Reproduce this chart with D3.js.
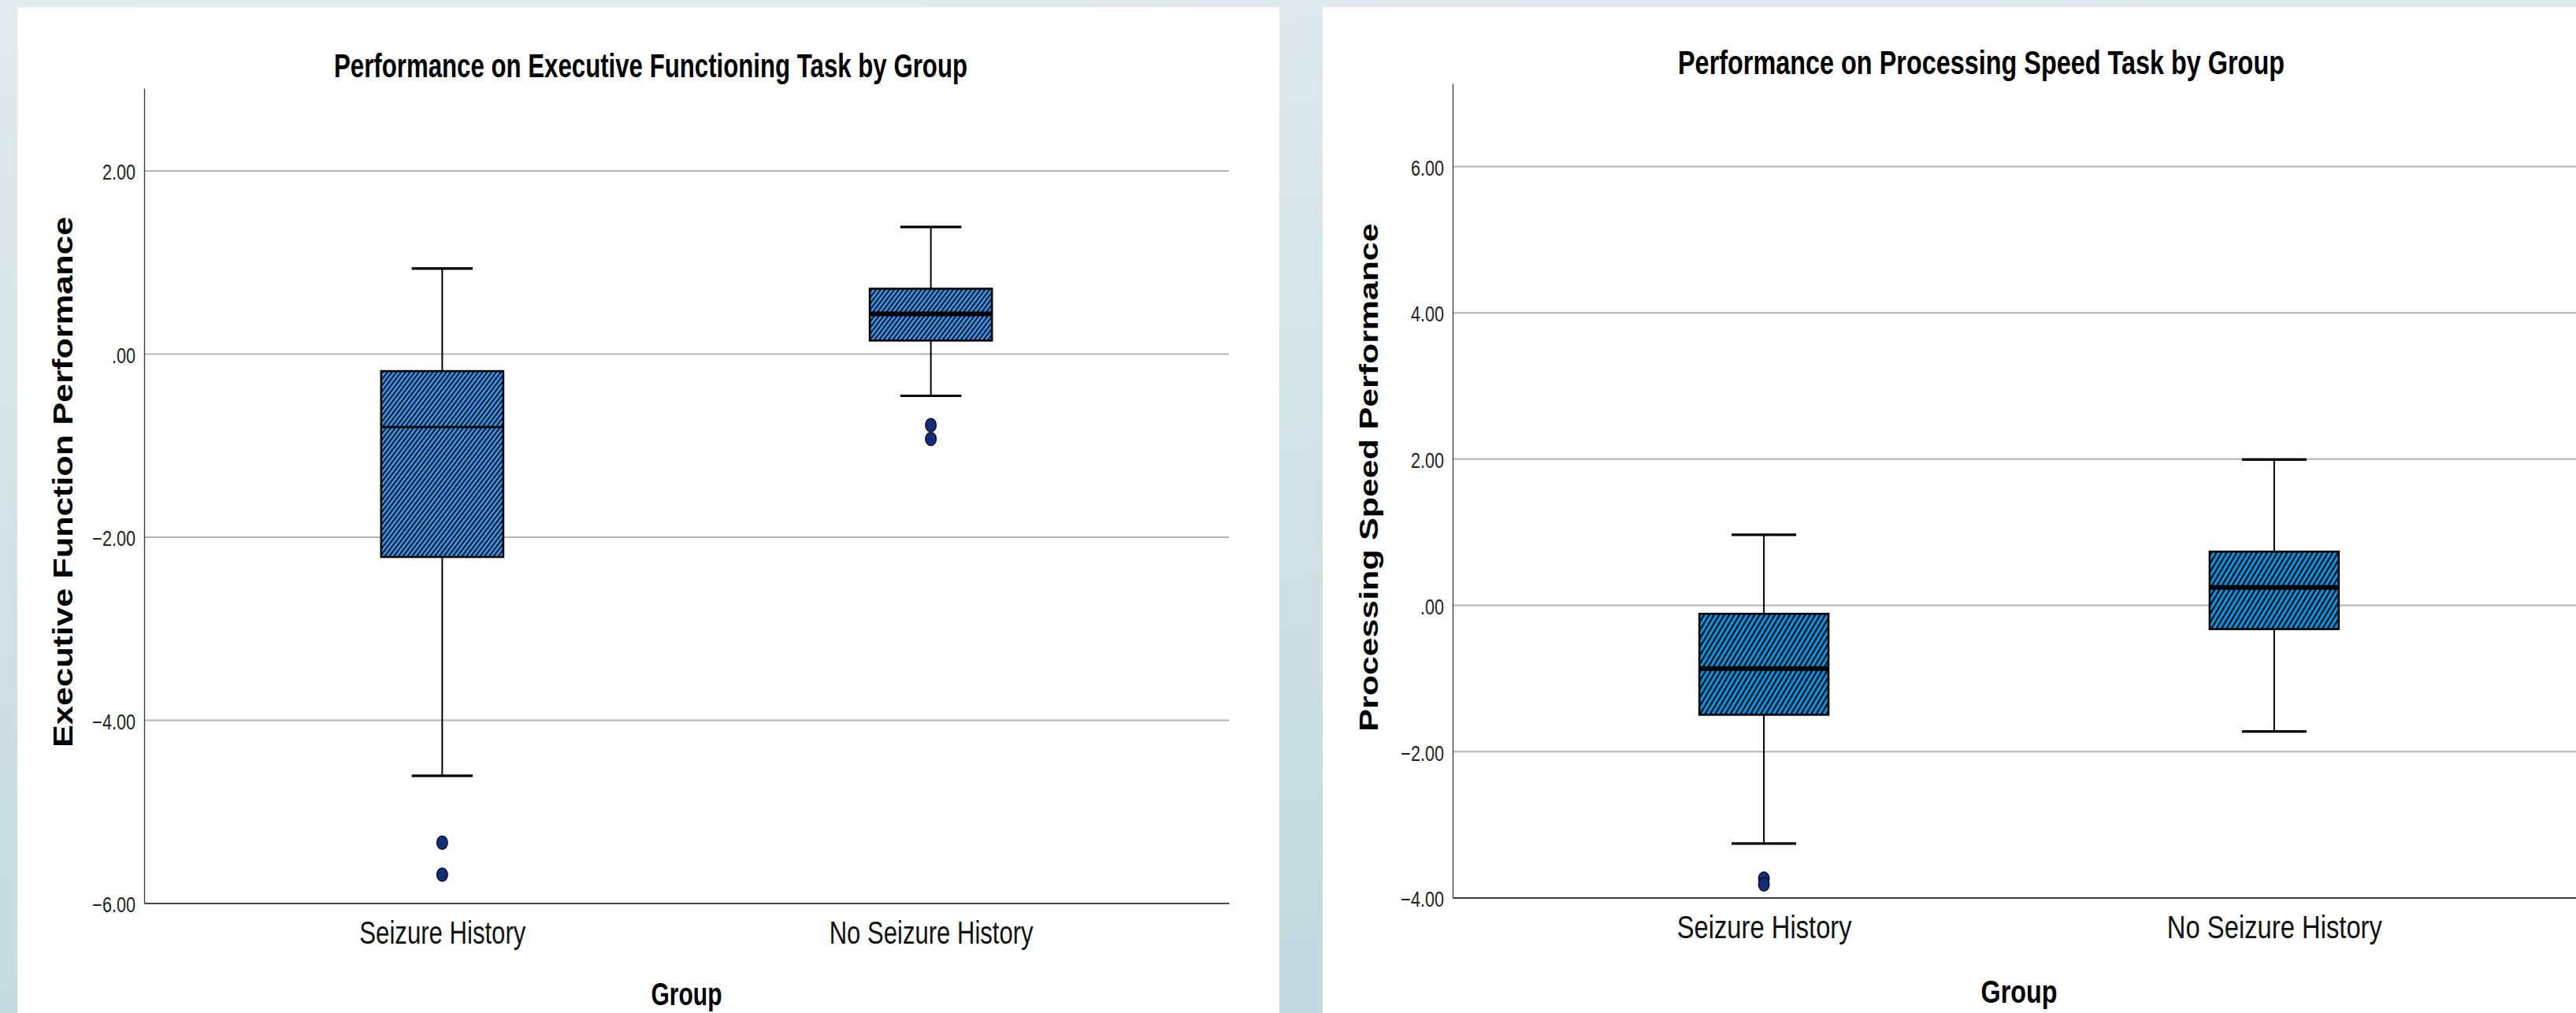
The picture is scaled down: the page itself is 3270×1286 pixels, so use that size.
<!DOCTYPE html>
<html>
<head>
<meta charset="utf-8">
<script src="https://cdn.jsdelivr.net/npm/d3@7"></script>
<style>
  html, body { margin: 0; padding: 0; }
  body { width: 3270px; height: 1286px; overflow: hidden; }
  svg { display: block; }
</style>
</head>
<body>
<svg id="root" width="3270" height="1286"></svg>
<script>
// ---------------- DATA ----------------
const groups = ["Seizure History", "No Seizure History"];

// Executive functioning (left chart)
const efWhiskerHigh = [0.93, 1.385];
const efQ3 = [-0.19, 0.71];
const efMedian = [-0.80, 0.434];
const efQ1 = [-2.22, 0.144];
const efWhiskerLow = [-4.61, -0.46];
const efOutliers = [[-5.34, -5.69], [-0.78, -0.93]];
const efTicks = [-6, -4, -2, 0, 2];

// Processing speed (right chart)
const psWhiskerHigh = [0.96, 1.99];
const psQ3 = [-0.12, 0.73];
const psMedian = [-0.87, 0.24];
const psQ1 = [-1.50, -0.33];
const psWhiskerLow = [-3.26, -1.73];
const psOutliers = [[-3.74, -3.82], []];
const psTicks = [-4, -2, 0, 2, 4, 6];

const titles = ["Performance on Executive Functioning Task by Group",
                "Performance on Processing Speed Task by Group"];
const yTitles = ["Executive Function Performance", "Processing Speed Performance"];
const xTitle = "Group";

// ---------------- DRAWING ----------------
const svg = d3.select("#root");
const defs = svg.append("defs");

const bg = defs.append("linearGradient").attr("id", "bgGrad")
  .attr("x1", 0).attr("y1", 0).attr("x2", 0.15).attr("y2", 1);
bg.append("stop").attr("offset", "0%").attr("stop-color", "#e0ebed");
bg.append("stop").attr("offset", "100%").attr("stop-color", "#c2dadf");
svg.append("rect").attr("width", 3270).attr("height", 1286).attr("fill", "url(#bgGrad)");

function hatch(id, period, angle, fill, lineW) {
  const p = defs.append("pattern").attr("id", id)
    .attr("patternUnits", "userSpaceOnUse")
    .attr("width", period).attr("height", 20)
    .attr("patternTransform", `rotate(${angle})`);
  p.append("rect").attr("width", period).attr("height", 20).attr("fill", fill);
  p.append("rect").attr("x", 0).attr("width", lineW).attr("height", 20).attr("fill", "#0a0a0a");
}
hatch("hatchL", 4.6, 37, "#3990e6", 1.7);
hatch("hatchR", 5.5, 31, "#0797e8", 2.3);

const fmt = v => d3.format(".2f")(v).replace(/^(-?)0\./, "$1.");

function condense(sel, factor) {
  sel.each(function () {
    const w = this.getComputedTextLength();
    d3.select(this).attr("textLength", w * factor).attr("lengthAdjust", "spacingAndGlyphs");
  });
}
const FONT = "Liberation Sans, Arial, Helvetica, sans-serif";

function drawChart(cfg) {
  const g = svg.append("g");
  // white panel
  g.append("rect").attr("x", cfg.panel[0]).attr("y", cfg.panel[1])
    .attr("width", cfg.panel[2]).attr("height", cfg.panel[3]).attr("fill", "#ffffff");

  const x = d3.scalePoint().domain(groups).range([cfg.left, cfg.right]).padding(0.61);
  const y = d3.scaleLinear().domain(cfg.yDomain).range([cfg.bottom, cfg.top]);
  const step = x.step();
  const boxW = step * cfg.boxFrac;
  const capW = boxW * 0.5;

  // gridlines
  const grid = g.append("g").attr("transform", `translate(${cfg.left},0)`)
    .call(d3.axisLeft(y).tickValues(cfg.ticks).tickSize(-(cfg.right - cfg.left)).tickFormat(""));
  grid.select(".domain").remove();
  grid.selectAll(".tick line").attr("stroke", "#b3b3b3").attr("stroke-width", 2);

  // y axis
  const ya = g.append("g").attr("transform", `translate(${cfg.left},0)`)
    .call(d3.axisLeft(y).tickValues(cfg.ticks).tickFormat(fmt).tickSize(0).tickSizeOuter(0).tickPadding(11));
  ya.select(".domain").attr("stroke", "#3a3a3a").attr("stroke-width", 1.3);
  ya.selectAll(".tick text").attr("font-family", FONT)
    .attr("font-size", 27 * cfg.k).attr("fill", "#222").attr("dy", "0.42em");
  condense(ya.selectAll(".tick text"), 0.8);

  // x axis
  const xa = g.append("g").attr("transform", `translate(0,${cfg.bottom})`)
    .call(d3.axisBottom(x).tickSize(0).tickSizeOuter(0).tickPadding(23 * cfg.k));
  xa.select(".domain").attr("stroke", "#3a3a3a").attr("stroke-width", 1.8);
  xa.selectAll(".tick text").attr("font-family", FONT)
    .attr("font-size", 40 * cfg.k).attr("fill", "#111")
    .attr("textLength", (d, i) => cfg.catLen[i]).attr("lengthAdjust", "spacingAndGlyphs");

  // boxes
  groups.forEach((grp, i) => {
    const cx = x(grp);
    const bx = g.append("g");
    // whiskers
    bx.append("line").attr("x1", cx).attr("x2", cx)
      .attr("y1", y(cfg.wHigh[i])).attr("y2", y(cfg.q3[i]))
      .attr("stroke", "#000").attr("stroke-width", 2);
    bx.append("line").attr("x1", cx).attr("x2", cx)
      .attr("y1", y(cfg.q1[i])).attr("y2", y(cfg.wLow[i]))
      .attr("stroke", "#000").attr("stroke-width", 2);
    [cfg.wHigh[i], cfg.wLow[i]].forEach(v => {
      bx.append("line").attr("x1", cx - capW / 2).attr("x2", cx + capW / 2)
        .attr("y1", y(v)).attr("y2", y(v))
        .attr("stroke", "#000").attr("stroke-width", 3.2);
    });
    // box
    bx.append("rect").attr("x", cx - boxW / 2).attr("width", boxW)
      .attr("y", y(cfg.q3[i])).attr("height", y(cfg.q1[i]) - y(cfg.q3[i]))
      .attr("fill", `url(#${cfg.pattern})`).attr("stroke", "#000").attr("stroke-width", 2.6);
    // median
    bx.append("line").attr("x1", cx - boxW / 2).attr("x2", cx + boxW / 2)
      .attr("y1", y(cfg.med[i])).attr("y2", y(cfg.med[i]))
      .attr("stroke", "#000").attr("stroke-width", cfg.medW[i]);
    // outliers
    bx.selectAll("ellipse.out").data(cfg.outs[i]).enter().append("ellipse")
      .attr("class", "out")
      .attr("cx", cx).attr("cy", d => y(d))
      .attr("rx", 6.8 * cfg.k).attr("ry", 8.5 * cfg.k)
      .attr("fill", "#12307a").attr("stroke", "#0a0a1a").attr("stroke-width", 1.4);
  });

  // title
  g.append("text").attr("x", cfg.titleX).attr("y", cfg.titleY)
    .attr("text-anchor", "middle")
    .attr("font-family", FONT).attr("font-weight", "bold")
    .attr("font-size", 43 * cfg.k).attr("fill", "#000")
    .attr("textLength", cfg.titleLen).attr("lengthAdjust", "spacingAndGlyphs")
    .text(cfg.title);

  // y title
  g.append("text")
    .attr("transform", `translate(${cfg.yTitleX},${cfg.yTitleY}) rotate(-90)`)
    .attr("text-anchor", "middle")
    .attr("font-family", FONT).attr("font-weight", "bold")
    .attr("font-size", cfg.yTitleSize).attr("fill", "#000")
    .attr("textLength", cfg.yTitleLen).attr("lengthAdjust", "spacingAndGlyphs")
    .text(cfg.yTitle);

  // x title
  g.append("text").attr("x", (cfg.left + cfg.right) / 2).attr("y", cfg.bottom + cfg.xTitleDy)
    .attr("text-anchor", "middle")
    .attr("font-family", FONT).attr("font-weight", "bold")
    .attr("font-size", 41 * cfg.k).attr("fill", "#000")
    .attr("textLength", cfg.xTitleLen).attr("lengthAdjust", "spacingAndGlyphs")
    .text(xTitle);
}

drawChart({
  panel: [22, 9, 1602, 1290],
  left: 183, right: 1560, top: 112, bottom: 1146.4,
  yDomain: [-6, 2.9], ticks: efTicks, k: 1, boxFrac: 0.25,
  wHigh: efWhiskerHigh, q3: efQ3, med: efMedian, q1: efQ1, wLow: efWhiskerLow, outs: efOutliers,
  medW: [2.8, 6], pattern: "hatchL",
  catLen: [211, 259],
  title: titles[0], titleX: 826, titleY: 98, titleLen: 804,
  yTitle: yTitles[0], yTitleX: 92, yTitleY: 612, yTitleSize: 35, yTitleLen: 674,
  xTitleDy: 130, xTitleLen: 90
});

drawChart({
  panel: [1679, 9, 1700, 1290],
  left: 1844, right: 3282, top: 106, bottom: 1139.5,
  yDomain: [-4, 7.13], ticks: psTicks, k: 1.0, boxFrac: 0.253,
  wHigh: psWhiskerHigh, q3: psQ3, med: psMedian, q1: psQ1, wLow: psWhiskerLow, outs: psOutliers,
  medW: [6, 6], pattern: "hatchR",
  catLen: [222, 273],
  title: titles[1], titleX: 2515, titleY: 94, titleLen: 770,
  yTitle: yTitles[1], yTitleX: 1749, yTitleY: 606, yTitleSize: 34, yTitleLen: 645,
  xTitleDy: 133, xTitleLen: 97
});
</script>
</body>
</html>
